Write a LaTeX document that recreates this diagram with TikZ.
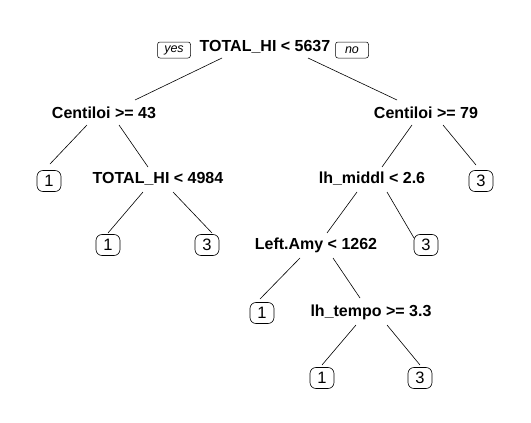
\documentclass[tikz,border=0pt]{standalone}
\usepackage{fontspec}
\setmainfont{Liberation Sans}
\usetikzlibrary{calc}
\tikzstyle{split} = [font=\fontsize{16}{17}\selectfont\bfseries, inner sep=0pt]
\tikzstyle{leaf} = [rectangle, rounded corners=6pt, draw=black, line width=0.6pt, minimum width=24pt, minimum height=21pt, inner sep=0pt, font=\fontsize{16.5}{18}\selectfont]
\tikzstyle{answer} = [rectangle, rounded corners=2.5pt, draw=black, line width=0.5pt, minimum width=33pt, minimum height=16pt, inner sep=0pt, font=\fontsize{12.5}{13}\selectfont\itshape]
\tikzstyle{branch} = [line width=0.6pt]

\begin{document}
\begin{tikzpicture}[x=1pt, y=-1pt]
  \useasboundingbox [fill=white] (0,0) rectangle (531,423);
  %splits and leaves
  \node (root) [split] at (265,47) {TOTAL\_HI < 5637};
  \node (yes) [answer] at (174,50) {yes};
  \node (no) [answer] at (352,50) {no};
  \node (cent1) [split] at (104,113) {Centiloi >= 43};
  \node (cent2) [split] at (426,113) {Centiloi >= 79};
  \node (leafA) [leaf] at (49,181) {1};
  \node (total2) [split] at (158,179) {TOTAL\_HI < 4984};
  \node (middl) [split] at (372,179) {lh\_middl < 2.6};
  \node (leafB) [leaf] at (481,181) {3};
  \node (leafC) [leaf] at (108,245) {1};
  \node (leafD) [leaf] at (207,245) {3};
  \node (amy) [split] at (316,245) {Left.Amy < 1262};
  \node (leafE) [leaf] at (426,245) {3};
  \node (leafF) [leaf] at (262,313) {1};
  \node (tempo) [split] at (371,312) {lh\_tempo >= 3.3};
  \node (leafG) [leaf] at (322,378) {1};
  \node (leafH) [leaf] at (420,378) {3};

  %branches
  \draw [branch] ($(root)+(-43,11)$) -- ($(cent1)+(31,-13)$);
  \draw [branch] ($(root)+(43,11)$) -- ($(cent2)+(-29,-13)$);
  \draw [branch] ($(cent1)+(-17,12)$) -- ($(leafA)+(1,-17)$);
  \draw [branch] ($(cent1)+(15,12)$) -- ($(total2)+(-10,-12)$);
  \draw [branch] ($(cent2)+(-14,12)$) -- ($(middl)+(10,-12)$);
  \draw [branch] ($(cent2)+(17,12)$) -- ($(leafB)+(-5,-16)$);
  \draw [branch] ($(total2)+(-15,13)$) -- ($(leafC)+(0,-12)$);
  \draw [branch] ($(total2)+(15,13)$) -- ($(leafD)+(5,-12)$);
  \draw [branch] ($(middl)+(-15,13)$) -- ($(amy)+(11,-12)$);
  \draw [branch] ($(middl)+(15,13)$) -- ($(leafE)+(-12,-7)$);
  \draw [branch] ($(amy)+(-16,13)$) -- ($(leafF)+(-2,-14)$);
  \draw [branch] ($(amy)+(17,13)$) -- ($(tempo)+(-11,-14)$);
  \draw [branch] ($(tempo)+(-15,13)$) -- ($(leafG)+(0,-13)$);
  \draw [branch] ($(tempo)+(16,13)$) -- ($(leafH)+(0,-13)$);
\end{tikzpicture}
\end{document}
